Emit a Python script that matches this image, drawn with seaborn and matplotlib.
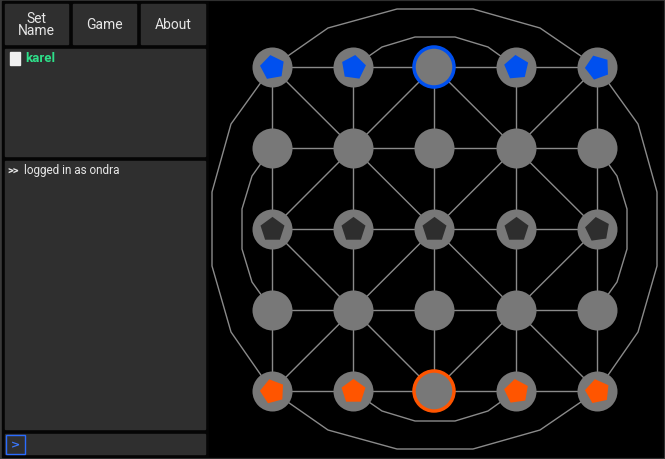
import seaborn as sns
import matplotlib.pyplot as plt
from matplotlib.patches import Rectangle

# board geometry (pixel columns / rows of the 5x5 grid)
cols = [272, 353, 434, 516, 597]
rows = [68, 149, 230, 311, 392]

# pieces: B = blue, O = orange, D = dark, b/o = ring marker (selected), . = empty
layout = ["BBbBB", ".....", "DDDDD", ".....", "OOoOO"]
angles = [[10, -8, 0, 5, 20], [0] * 5, [0, 0, 0, 0, 8], [0] * 5, [15, 0, 0, 8, 12]]

# outer decorative tracks
outer_top = [(272, 68), (328, 29), (397, 10), (473, 10), (540, 29), (597, 68)]
outer_right = [(597, 68), (638, 125), (657, 193), (657, 267), (638, 333), (597, 392)]
inner_top = [(353, 68), (382, 48), (415, 38), (455, 38), (488, 48), (516, 68)]
inner_right = [(597, 149), (617, 177), (627, 210), (627, 250), (617, 283), (597, 311)]

buttons = ["Set\nName", "Game", "About"]
player = "karel"
log_line = "logged in as ondra"

sns.set_style("dark")
fig = plt.figure(figsize=(6.65, 4.6), dpi=100)
ax = fig.add_axes([0, 0, 1, 1])
ax.set_xlim(0, 665)
ax.set_ylim(460, 0)
ax.axis("off")
fig.patch.set_facecolor("#3a3a3a")

ax.add_patch(Rectangle((2, 2), 661, 456, color="#050505", zorder=0))
ax.add_patch(Rectangle((209, 3), 452, 454, color="#000000", zorder=0))

panel = "#2f2f2f"
txt = "#e6e6e6"
for i, (x0, x1) in enumerate([(5, 68), (73, 136), (141, 205)]):
    ax.add_patch(Rectangle((x0, 5), x1 - x0, 40, color=panel))
    ax.text((x0 + x1) / 2, 25, buttons[i], color=txt, ha="center", va="center",
            fontsize=10, linespacing=0.85, family="Roboto")
ax.add_patch(Rectangle((5, 50), 200, 107, color=panel))
ax.add_patch(Rectangle((5, 162), 200, 268, color=panel))
ax.add_patch(Rectangle((5, 435), 200, 20, color=panel))
ax.add_patch(Rectangle((10, 53), 10, 13, color="#f0f0f0"))
ax.text(25, 59, player, color="#2ee08a", fontsize=9.5, fontweight="bold",
        va="center", family="Roboto")
ax.text(7, 171, ">>", color=txt, fontsize=8, fontweight="bold", va="center", family="Roboto")
ax.text(24, 171, log_line, color=txt, fontsize=8.5, va="center", family="Roboto")
ax.add_patch(Rectangle((5.5, 435.5), 19, 19, fill=False, ec="#2a6cff", lw=1))
ax.text(15, 445, ">", color="#3a78ff", fontsize=8, fontweight="bold",
        ha="center", va="center")

line = dict(color="#8a8a8a", lw=1, zorder=1)
# tracks, mirrored
cx, cy = 434.5, 230
for pts in (outer_top, inner_top):
    xs, ys = zip(*pts)
    ax.plot(xs, ys, **line)
    ax.plot(xs, [2 * cy - y for y in ys], **line)
for pts in (outer_right, inner_right):
    xs, ys = zip(*pts)
    ax.plot(xs, ys, **line)
    ax.plot([2 * cx - x for x in xs], ys, **line)

# grid lines
for y in rows:
    ax.plot([cols[0], cols[-1]], [y, y], **line)
for x in cols:
    ax.plot([x, x], [rows[0], rows[-1]], **line)
diag = [((0, 0), (4, 4)), ((4, 0), (0, 4)), ((2, 0), (0, 2)), ((2, 0), (4, 2)),
        ((0, 2), (2, 4)), ((4, 2), (2, 4))]
for (a, b), (c, d) in diag:
    ax.plot([cols[a], cols[c]], [rows[b], rows[d]], **line)

nx = [x for y in rows for x in cols]
ny = [y for y in rows for x in cols]
sns.scatterplot(x=nx, y=ny, s=830, color="#787878", linewidth=0, ax=ax, zorder=3)

colors = {"B": "#0050ef", "O": "#ff5500", "D": "#2e2e2e", "b": "#0050ef", "o": "#ff5500"}
for r, rowstr in enumerate(layout):
    for c, ch in enumerate(rowstr):
        if ch == ".":
            continue
        if ch.islower():
            ax.scatter(cols[c], rows[r], s=830, facecolors="none",
                       edgecolors=colors[ch], linewidths=2.5, zorder=4)
        else:
            ax.scatter(cols[c], rows[r], s=330, marker=(5, 0, angles[r][c]),
                       color=colors[ch], linewidths=0, zorder=4)

fig.savefig("out.png", dpi=100, facecolor=fig.get_facecolor())
